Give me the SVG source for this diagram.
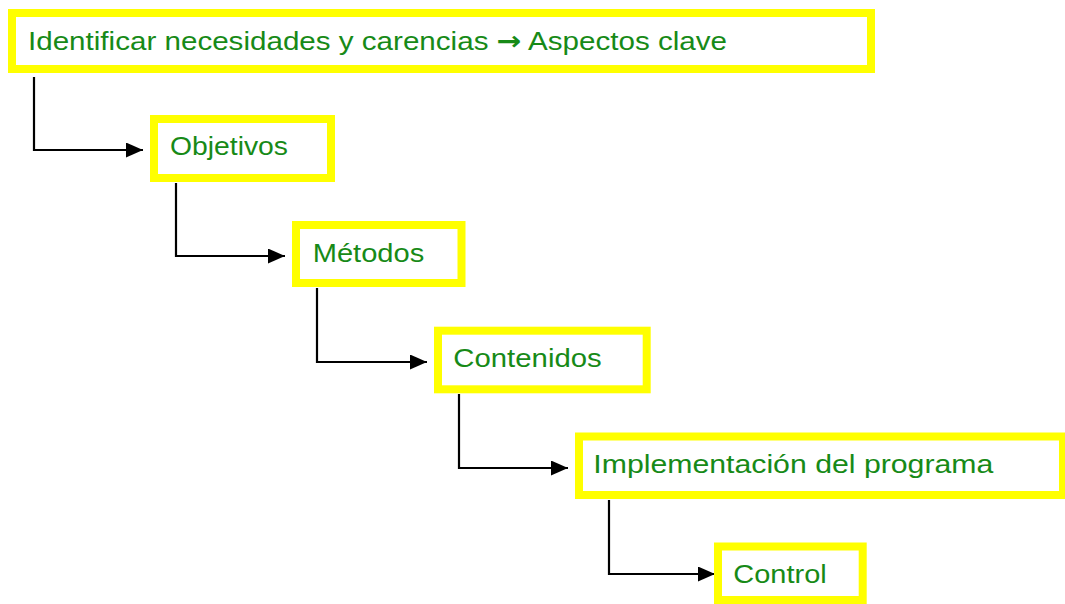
<svg xmlns="http://www.w3.org/2000/svg" width="1065" height="604" viewBox="0 0 1065 604">
<style>
.box{fill:#fff;stroke:#ffff00;stroke-width:8}
.lbl{font-family:"Liberation Sans",Arial,sans-serif;font-size:26px;fill:#178a17}
.arr{font-family:"DejaVu Sans",sans-serif;font-weight:bold}
.conn{fill:none;stroke:#000;stroke-width:2.2}
</style>
<defs>
<marker id="ah" markerUnits="userSpaceOnUse" markerWidth="18" markerHeight="15" refX="17" refY="7.5" orient="auto">
<path d="M0,0 L17,7.5 L0,15 Z" fill="#000"/>
</marker>
</defs>
<rect width="1065" height="604" fill="#fff"/>
<g id="connectors">
<path class="conn" d="M34,77 V150 H143" marker-end="url(#ah)"/>
<path class="conn" d="M176,183 V256 H285" marker-end="url(#ah)"/>
<path class="conn" d="M317,288 V362 H427" marker-end="url(#ah)"/>
<path class="conn" d="M459,394 V468 H568" marker-end="url(#ah)"/>
<path class="conn" d="M609,500 V574 H715" marker-end="url(#ah)"/>
</g>
<g id="n1">
<rect class="box" x="12" y="13" width="859" height="56"/>
<text class="lbl" x="28" y="50" textLength="699" lengthAdjust="spacingAndGlyphs">Identificar necesidades y carencias <tspan class="arr">→</tspan> Aspectos clave</text>
</g>
<g id="n2">
<rect class="box" x="154" y="119" width="177" height="59"/>
<text class="lbl" x="170" y="155" textLength="118" lengthAdjust="spacingAndGlyphs">Objetivos</text>
</g>
<g id="n3">
<rect class="box" x="296" y="225" width="165.5" height="58"/>
<text class="lbl" x="312.7" y="261.5" textLength="111.6" lengthAdjust="spacingAndGlyphs">Métodos</text>
</g>
<g id="n4">
<rect class="box" x="438" y="330.7" width="208.7" height="58.6"/>
<text class="lbl" x="453.3" y="366.7" textLength="148.4" lengthAdjust="spacingAndGlyphs">Contenidos</text>
</g>
<g id="n5">
<rect class="box" x="579" y="436.5" width="484" height="58.5"/>
<text class="lbl" x="593.3" y="473.3" textLength="400" lengthAdjust="spacingAndGlyphs">Implementación del programa</text>
</g>
<g id="n6">
<rect class="box" x="718" y="546.5" width="144.7" height="53.5"/>
<text class="lbl" x="733.3" y="583.3" textLength="93.4" lengthAdjust="spacingAndGlyphs">Control</text>
</g>
</svg>
